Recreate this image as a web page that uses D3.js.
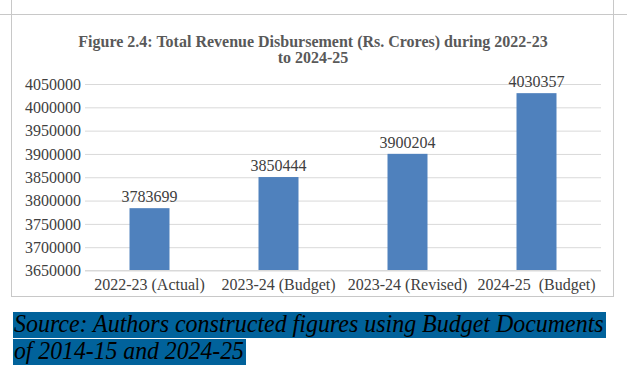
<!DOCTYPE html>
<html><head><meta charset="utf-8">
<script src="https://cdn.jsdelivr.net/npm/d3@7"></script>
<style>html,body{margin:0;padding:0;background:#fff;}svg{display:block;}</style>
</head><body>
<svg id="c" width="627" height="376"></svg>
<script>
const categories = ["2022-23 (Actual)", "2023-24 (Budget)", "2023-24 (Revised)", "2024-25  (Budget)"];
const values = [3783699, 3850444, 3900204, 4030357];
const yTicks = [3650000, 3700000, 3750000, 3800000, 3850000, 3900000, 3950000, 4000000, 4050000];
const titleLines = ["Figure 2.4: Total Revenue Disbursement (Rs. Crores) during 2022-23", "to 2024-25"];
const sourceLines = ["Source: Authors constructed figures using Budget Documents", "of 2014-15 and 2024-25"];

const svg = d3.select("#c");
const serif = "Liberation Serif";

// page margin markers
svg.append("path").attr("d","M11.5,0V14.5H0 M613.5,0V14.5H627").attr("fill","none").attr("stroke","#c8c8c8");
// chart border
svg.append("rect").attr("x",11.5).attr("y",14.5).attr("width",602).attr("height",282)
  .attr("fill","#fff").attr("stroke","#c8c8c8");

// title
svg.append("text").attr("x",313).attr("y",47).attr("text-anchor","middle")
  .attr("font-family",serif).attr("font-weight","bold").attr("font-size",16).attr("fill","#595959")
  .selectAll("tspan").data(titleLines).join("tspan")
  .attr("x",313).attr("dy",(d,i)=>i?16:0).text(d=>d);

const x = d3.scaleBand().domain(categories).range([85,601]).paddingInner(0.69).paddingOuter(0.345);
const y = d3.scaleLinear().domain([3650000,4050000]).range([270.5,84]);

// gridlines
const yAxis = d3.axisLeft(y).tickValues(yTicks).tickSize(-(601-85)).tickFormat(d3.format("d")).tickPadding(4);
const gy = svg.append("g").attr("transform","translate(85,0)").call(yAxis);
gy.select(".domain").remove();
gy.selectAll(".tick line").attr("stroke","#d9d9d9");
gy.selectAll(".tick text").attr("font-family",serif).attr("font-size",16).attr("fill","#404040");

// bars
svg.append("g").selectAll("rect").data(values).join("rect")
  .attr("x",(d,i)=>x(categories[i])).attr("width",x.bandwidth())
  .attr("y",d=>y(d)).attr("height",d=>y(3650000)-y(d))
  .attr("fill","#4f81bd");

// x axis
const xAxis = d3.axisBottom(x).tickSize(0).tickPadding(8);
const gx = svg.append("g").attr("transform","translate(0,270.5)").call(xAxis);
gx.select(".domain").attr("stroke","#d9d9d9").attr("d","M85,0H601");
gx.selectAll(".tick text").attr("font-family",serif).attr("font-size",16).attr("fill","#404040").style("white-space","pre");

// value labels
svg.append("g").selectAll("text").data(values).join("text")
  .attr("x",(d,i)=>x(categories[i])+x.bandwidth()/2).attr("y",d=>y(d)-6)
  .attr("text-anchor","middle").attr("font-family",serif).attr("font-size",16).attr("fill","#404040")
  .text(d=>d);

// source with highlight
const src = svg.append("g");
const srcY = [312, 339];
const srcW = [593, 233];
sourceLines.forEach((t,i)=>{
  src.append("rect").attr("x",13).attr("y",srcY[i]).attr("width",srcW[i]).attr("height",26).attr("fill","#01629b");
  const g = src.append("g");
  const txt = g.append("text").attr("x",0).attr("y",0)
    .attr("font-family",serif).attr("font-style","italic").attr("font-size",25).attr("fill","#000")
    .text(t);
  const w = txt.node().getComputedTextLength();
  const sx = Math.min(1.15, (srcW[i]-3)/w);
  g.attr("transform",`translate(14,${srcY[i]+20}) scale(${sx},1)`);
});
</script>
</body></html>
